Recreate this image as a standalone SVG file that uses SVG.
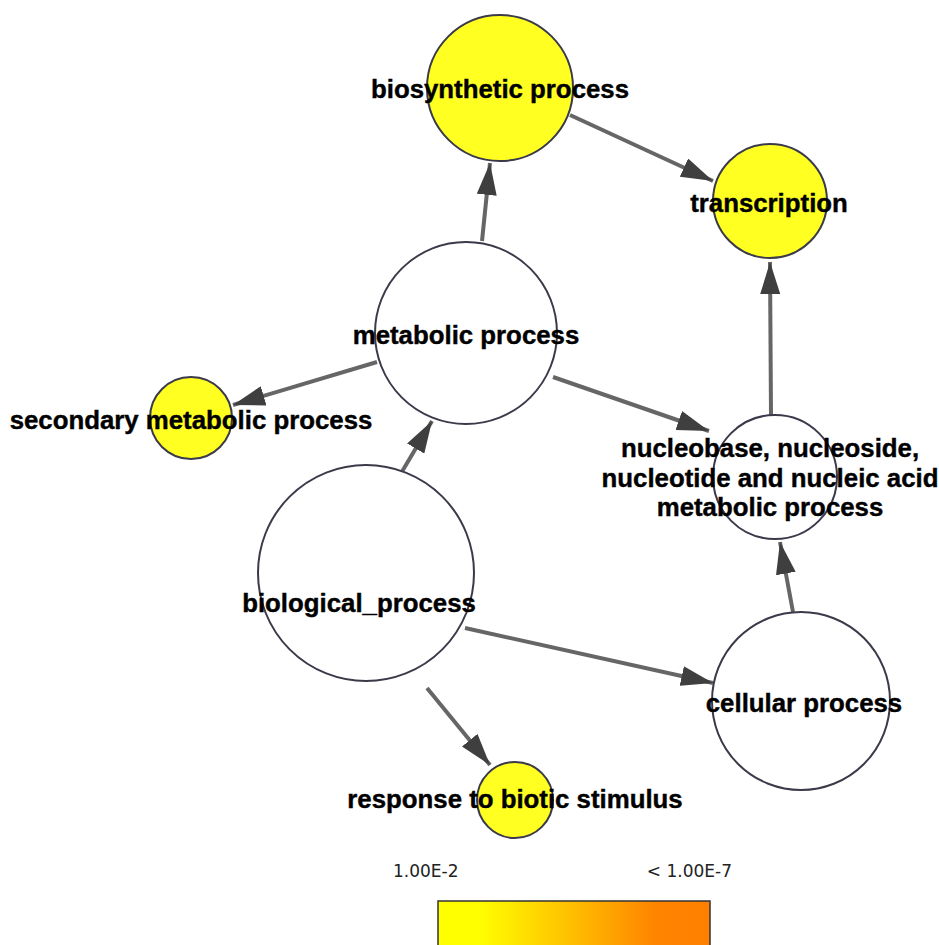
<svg xmlns="http://www.w3.org/2000/svg" width="939" height="945" viewBox="0 0 939 945">
  <style>
    .node { stroke: #3a3a4a; stroke-width: 2; }
    .sig { fill: #ffff22; }
    .plain { fill: #ffffff; }
    .lbl { font-family: "Liberation Sans", Arial, sans-serif; font-weight: bold; font-size: 25.8px; fill: #000; stroke: #000; stroke-width: 0.4; text-anchor: middle; }
    .edge { stroke: #666666; stroke-width: 4; fill: none; marker-end: url(#arrow); }
    .legend { font-family: "DejaVu Sans", Verdana, sans-serif; font-size: 17px; fill: #222; }
  </style>
  <defs>
    <marker id="arrow" viewBox="0 0 10 10" refX="10" refY="5" markerWidth="8" markerHeight="5" markerUnits="strokeWidth" orient="auto" preserveAspectRatio="none">
      <path d="M0,0 L10,5 L0,10 z" fill="#3f3f3f"/>
    </marker>
    <linearGradient id="scale" x1="0" y1="0" x2="1" y2="0">
      <stop offset="0" stop-color="#ffff00"/>
      <stop offset="0.15" stop-color="#ffff00"/>
      <stop offset="0.8" stop-color="#ff8400"/>
      <stop offset="1" stop-color="#ff8000"/>
    </linearGradient>
  </defs>

  <rect width="939" height="945" fill="#ffffff"/>

  <!-- connectors -->
  <g id="edges">
    <line class="edge" x1="482" y1="241" x2="490" y2="163"/>
    <line class="edge" x1="570" y1="115" x2="713" y2="181"/>
    <line class="edge" x1="377" y1="362" x2="233" y2="405"/>
    <line class="edge" x1="553" y1="377" x2="709" y2="431"/>
    <line class="edge" x1="771" y1="415" x2="770" y2="262"/>
    <line class="edge" x1="400" y1="475" x2="432" y2="421"/>
    <line class="edge" x1="465" y1="628" x2="713" y2="683"/>
    <line class="edge" x1="427" y1="688" x2="490" y2="765"/>
    <line class="edge" x1="793" y1="612" x2="780" y2="542"/>
  </g>

  <!-- nodes -->
  <g id="biosynthetic_process">
    <circle class="node sig" cx="500" cy="88" r="73"/>
    <text class="lbl" x="500" y="98">biosynthetic process</text>
  </g>
  <g id="transcription">
    <circle class="node sig" cx="770" cy="201" r="57"/>
    <text class="lbl" x="769" y="212">transcription</text>
  </g>
  <g id="metabolic_process">
    <circle class="node plain" cx="466" cy="333" r="91"/>
    <text class="lbl" x="466" y="344">metabolic process</text>
  </g>
  <g id="secondary_metabolic_process">
    <circle class="node sig" cx="191" cy="418" r="41"/>
    <text class="lbl" x="191" y="429">secondary metabolic process</text>
  </g>
  <g id="nucleobase_metabolic_process">
    <circle class="node plain" cx="775" cy="477" r="62"/>
    <text class="lbl" x="770" y="457">nucleobase, nucleoside,</text>
    <text class="lbl" x="770" y="487">nucleotide and nucleic acid</text>
    <text class="lbl" x="770" y="516">metabolic process</text>
  </g>
  <g id="biological_process">
    <circle class="node plain" cx="366" cy="573" r="108"/>
    <text class="lbl" x="359" y="612">biological_process</text>
  </g>
  <g id="cellular_process">
    <circle class="node plain" cx="801" cy="701" r="89"/>
    <text class="lbl" x="804" y="712">cellular process</text>
  </g>
  <g id="response_to_biotic_stimulus">
    <circle class="node sig" cx="515" cy="800" r="38"/>
    <text class="lbl" x="515" y="808">response to biotic stimulus</text>
  </g>

  <!-- colour scale -->
  <g id="legend">
    <text class="legend" x="393" y="877">1.00E-2</text>
    <text class="legend" x="732" y="877" text-anchor="end">&lt; 1.00E-7</text>
    <rect x="438" y="901" width="272" height="50" fill="url(#scale)" stroke="#333" stroke-width="1.5"/>
  </g>
</svg>
